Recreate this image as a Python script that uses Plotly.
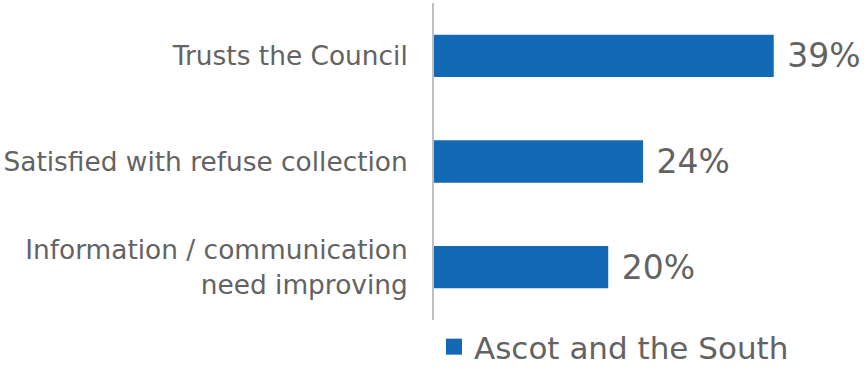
import plotly.graph_objects as go

categories = ["Trusts the Council", "Satisfied with refuse collection",
              "Information / communication<br>need improving"]
values = [39, 24, 20]
series_name = "Ascot and the South"

BAR = "#1369B3"
TXT = "#636363"
FONT = "DejaVu Sans, Verdana, sans-serif"

fig = go.Figure()
fig.add_trace(go.Bar(
    y=categories, x=values, orientation="h", name=series_name,
    marker=dict(color=BAR, line=dict(width=0)),
    text=[f"\u00a0{v}%" for v in values], textposition="outside",
    textfont=dict(size=33, color=TXT, family=FONT),
    cliponaxis=False, showlegend=False,
))
# legend key: a square swatch in the bar colour
fig.add_trace(go.Scatter(
    x=[None], y=[None], mode="markers", name=series_name,
    marker=dict(symbol="square", size=16, color=BAR),
))

fig.update_layout(
    width=868, height=370,
    margin=dict(l=434, r=42, t=3, b=50, autoexpand=False),
    paper_bgcolor="white", plot_bgcolor="white",
    bargap=0.6,
    showlegend=True,
    legend=dict(orientation="h", x=0.0, xanchor="left", y=0.0, yanchor="top",
                font=dict(size=31, color=TXT, family=FONT),
                itemwidth=30, bgcolor="rgba(0,0,0,0)"),
    font=dict(family=FONT, color=TXT),
)
fig.update_xaxes(range=[0, 45], visible=False)
fig.update_yaxes(autorange="reversed", showline=True, linecolor="#BFBFBF",
                 linewidth=2, ticks="", ticklabelstandoff=19,
                 tickfont=dict(size=26.4, color=TXT, family=FONT),
                 showgrid=False)

fig.write_html("out.html")
